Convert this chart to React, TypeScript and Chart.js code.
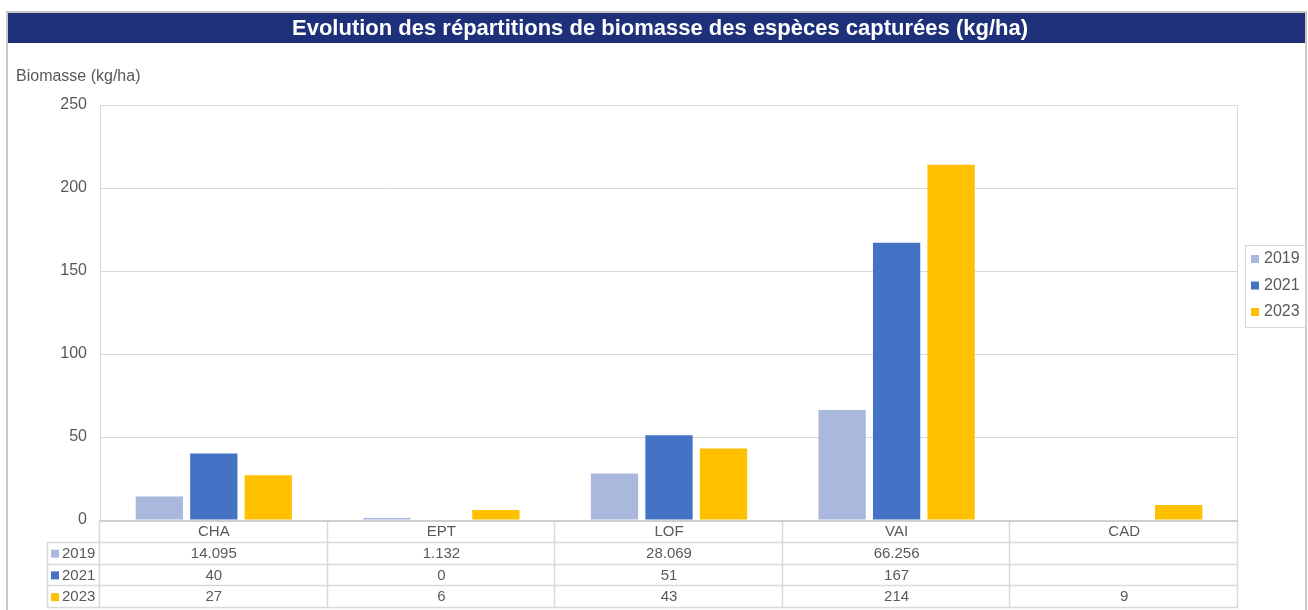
import React, { useEffect, useRef } from "react";
import { Chart, registerables } from "chart.js";

Chart.register(...registerables);

const titleText = "Evolution des répartitions de biomasse des espèces capturées (kg/ha)";
const yAxisTitle = "Biomasse (kg/ha)";
const categories = ["CHA", "EPT", "LOF", "VAI", "CAD"];
const seriesNames = ["2019", "2021", "2023"];
const values2019: (number | null)[] = [14.095, 1.132, 28.069, 66.256, null];
const values2021: (number | null)[] = [40, 0, 51, 167, null];
const values2023: (number | null)[] = [27, 6, 43, 214, 9];
const seriesColors = ["#A9B8DC", "#4472C4", "#FFC000"];
const yMin = 0;
const yMax = 250;
const yStep = 50;

const FONT = '"Liberation Sans", Arial, sans-serif';
const TEXT = "#595959";
const LINE = "#D9D9D9";

const W = 1308;
const H = 610;

const decorPlugin = {
  id: "decor",
  afterDraw(chart: any) {
    const ctx = chart.ctx as CanvasRenderingContext2D;
    const area = chart.chartArea;
    const xs = chart.scales.x;
    const seriesValues = [values2019, values2021, values2023];
    ctx.save();

    // outer frame
    ctx.strokeStyle = "#C8C8C8";
    ctx.lineWidth = 2;
    ctx.strokeRect(7, 12, 1299, H + 10);

    // title bar
    ctx.fillStyle = "#1F307A";
    ctx.fillRect(8, 13, 1297, 30);
    ctx.fillStyle = "#FFFFFF";
    ctx.font = `bold 22px ${FONT}`;
    ctx.textAlign = "center";
    ctx.textBaseline = "middle";
    ctx.fillText(titleText, 660, 29);

    // y axis title
    ctx.fillStyle = TEXT;
    ctx.font = `16px ${FONT}`;
    ctx.textAlign = "left";
    ctx.fillText(yAxisTitle, 16, 77);

    // plot box
    ctx.strokeStyle = LINE;
    ctx.lineWidth = 1;
    ctx.beginPath();
    ctx.moveTo(area.left + 0.5, area.bottom);
    ctx.lineTo(area.left + 0.5, area.top + 0.5);
    ctx.lineTo(area.right - 0.5, area.top + 0.5);
    ctx.lineTo(area.right - 0.5, area.bottom);
    ctx.stroke();

    // table
    const n = categories.length;
    const colW = (area.right - area.left) / n;
    const rowH = 21.75;
    const tTop = area.bottom;
    const tBottom = tTop + rowH * 4;
    const keyLeft = 47;

    ctx.strokeStyle = LINE;
    ctx.lineWidth = 1.5;
    for (let r = 1; r <= 4; r++) {
      const y = Math.round(tTop + rowH * r) + 0.5;
      ctx.beginPath();
      ctx.moveTo(keyLeft, y);
      ctx.lineTo(area.right, y);
      ctx.stroke();
    }
    for (let c = 0; c <= n; c++) {
      const x = Math.round(area.left + colW * c) - 0.5;
      ctx.beginPath();
      ctx.moveTo(x, tTop);
      ctx.lineTo(x, tBottom);
      ctx.stroke();
    }
    ctx.beginPath();
    ctx.moveTo(keyLeft + 0.5, tTop + rowH);
    ctx.lineTo(keyLeft + 0.5, tBottom);
    ctx.stroke();

    // axis line
    ctx.strokeStyle = "#CFCFCF";
    ctx.lineWidth = 2;
    ctx.beginPath();
    ctx.moveTo(area.left, area.bottom + 1);
    ctx.lineTo(area.right, area.bottom + 1);
    ctx.stroke();

    ctx.font = `15px ${FONT}`;
    ctx.fillStyle = TEXT;
    ctx.textAlign = "center";
    ctx.textBaseline = "middle";
    categories.forEach((cat, i) => {
      const cx = xs.getPixelForValue(i);
      ctx.fillText(cat, cx, tTop + rowH * 0.5 + 1);
      seriesValues.forEach((vals, s) => {
        const v = vals[i];
        if (v !== null && v !== undefined) {
          ctx.fillText(String(v), cx, tTop + rowH * (s + 1.5) + 1);
        }
      });
    });
    seriesNames.forEach((name, s) => {
      const cy = tTop + rowH * (s + 1.5) + 1;
      ctx.fillStyle = seriesColors[s];
      ctx.fillRect(51, cy - 4, 8, 8);
      ctx.fillStyle = TEXT;
      ctx.textAlign = "left";
      ctx.fillText(name, 62, cy);
    });

    // legend
    ctx.strokeStyle = LINE;
    ctx.lineWidth = 1;
    ctx.strokeRect(1245.5, 245.5, 60, 82);
    ctx.font = `16px ${FONT}`;
    seriesNames.forEach((name, s) => {
      const cy = 259 + s * 26.5;
      ctx.fillStyle = seriesColors[s];
      ctx.fillRect(1251, cy - 4, 8, 8);
      ctx.fillStyle = TEXT;
      ctx.textAlign = "left";
      ctx.fillText(name, 1264, cy);
    });

    ctx.restore();
  },
};

export default function App() {
  const ref = useRef<HTMLCanvasElement | null>(null);
  useEffect(() => {
    document.body.style.margin = "0";
    const canvas = ref.current;
    if (!canvas) return;
    const chart = new Chart(canvas, {
      type: "bar",
      data: {
        labels: categories,
        datasets: [
          { label: seriesNames[0], data: values2019, backgroundColor: seriesColors[0] },
          { label: seriesNames[1], data: values2021, backgroundColor: seriesColors[1] },
          { label: seriesNames[2], data: values2023, backgroundColor: seriesColors[2] },
        ],
      },
      options: {
        responsive: false,
        animation: false,
        devicePixelRatio: 1,
        layout: { padding: { left: 0, right: 70, top: 105, bottom: 90 } },
        datasets: {
          bar: { categoryPercentage: 0.718, barPercentage: 0.868 },
        },
        plugins: {
          legend: { display: false },
          title: { display: false },
          tooltip: { enabled: false },
        },
        scales: {
          x: { display: false },
          y: {
            min: yMin,
            max: yMax,
            afterFit: (s: any) => {
              s.width = 100;
            },
            ticks: {
              stepSize: yStep,
              color: TEXT,
              padding: 13,
              font: { family: FONT, size: 16 },
            },
            grid: { color: LINE, drawTicks: false, lineWidth: 1 },
            border: { display: false },
          },
        },
      },
      plugins: [decorPlugin],
    });
    return () => chart.destroy();
  }, []);
  return (
    <div style={{ position: "absolute", left: 0, top: 0, width: W, height: H, overflow: "hidden", background: "#fff" }}>
      <canvas ref={ref} width={W} height={H} style={{ width: W, height: H, display: "block" }} />
    </div>
  );
}
